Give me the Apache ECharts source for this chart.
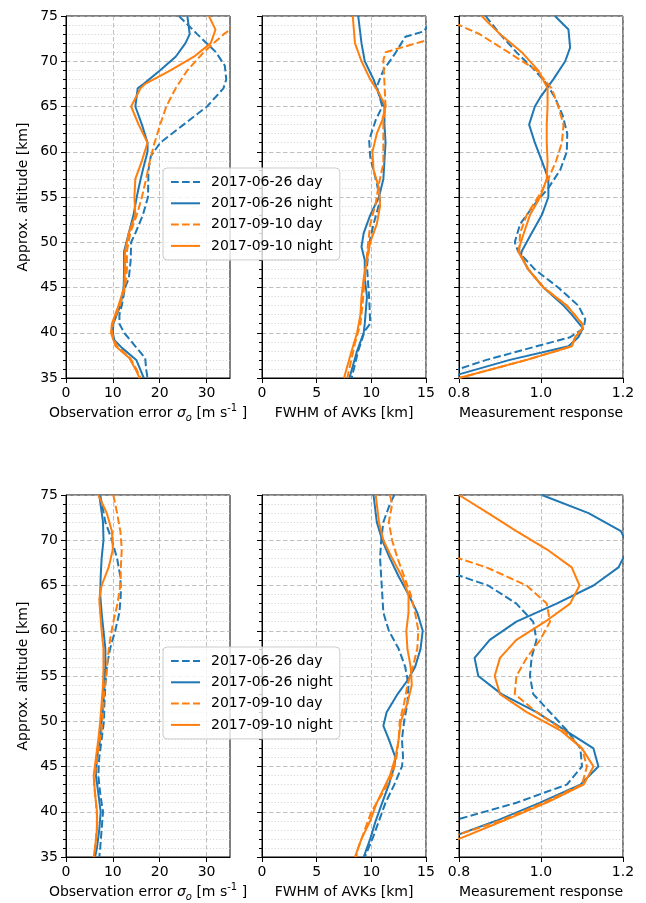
<!DOCTYPE html>
<html><head><meta charset="utf-8">
<script src="https://cdn.jsdelivr.net/npm/echarts@6/dist/echarts.min.js"></script>
<style>html,body{margin:0;padding:0;background:#fff}#c{width:646px;height:903px}</style>
</head><body><div id="c"></div>
<script>
const seriesNames = ['2017-06-26 day','2017-06-26 night','2017-09-10 day','2017-09-10 night'];
const altTicks = [35,40,45,50,55,60,65,70,75];
const errTicks = [0,10,20,30];
const fwhmTicks = [0,5,10,15];
const respTicks = [0.8,1.0,1.2];

// ---- top row: [value, altitude] ----
const errTopDay0626 = [[24.1,75],[28,73],[32,71],[33.9,69.5],[34.2,68],[33.6,67],[30.1,65],[25.1,63],[20.1,61],[18.1,59.5],[17.6,58],[17.5,55],[16.4,53],[14.8,51],[13.9,50],[13.8,48],[13.4,46],[12.6,45],[11.9,43],[11.4,42],[11.4,41],[12.4,40],[14.8,38.5],[16.9,37.2],[17.1,36],[17.4,35]];
const errTopNight0626 = [[25.9,75],[26.4,73],[25.5,72],[23.4,70.5],[20.1,69],[16.6,67.5],[15.3,67],[14.8,65],[16.2,63],[17.4,61],[17.4,60],[16.4,58],[15.5,56],[15.1,55],[14.4,53],[13.4,51],[12.4,49],[12.4,47],[12.3,45],[11.6,43],[10.1,41],[10.0,40],[10.3,39.2],[12.0,38.3],[15.0,37],[15.8,36],[16.6,35]];
const errTopDay0910 = [[38,75],[36.3,74],[33.7,73],[29.4,71],[25.9,69],[23.4,67],[21.4,65],[20.1,63],[18.9,61],[17.9,59],[17.1,57],[16.2,55],[15.1,53],[13.7,51],[13.0,49],[13.0,47],[12.6,45],[11.5,43],[10.0,41],[9.8,40],[10.3,39.2],[10.9,38.5],[13.7,37.2],[15.0,36],[15.9,35]];
const errTopNight0910 = [[30.5,75],[31.9,73.5],[30.9,72],[27.3,70.5],[22.3,69],[16.9,67.5],[15.9,67],[13.9,65],[15.5,63],[17.4,61],[16.2,59],[14.8,57],[14.6,55],[14.8,53],[13.4,51],[12.6,49],[12.6,47],[12.4,45],[11.2,43],[9.8,41],[9.6,40],[10.1,39.2],[10.6,38.5],[13.5,37.2],[14.8,36],[15.7,35]];

const fwhmTopDay0626 = [[16,75],[15.2,74],[14.8,73.3],[13.1,72.7],[12.2,70.9],[11.1,69],[10.5,67.2],[11.0,65],[10.4,63.5],[9.8,61.3],[9.9,59.4],[10.5,56.5],[10.8,54.6],[10.2,52],[9.8,49.8],[9.6,47.3],[9.8,43.9],[9.9,41],[9.4,40.2],[8.8,38],[8.2,35]];
const fwhmTopNight0626 = [[8.8,75],[9.1,72],[9.4,70],[10.2,68],[10.8,66],[11.2,65],[11.2,63],[11.3,61],[11.2,59],[11.1,57],[10.7,55],[9.9,53],[9.3,51],[9.1,49.5],[9.4,48],[9.4,46],[9.6,44],[9.4,41],[9.3,40],[8.7,38],[8.0,35]];
const fwhmTopDay0910 = [[18,75],[16.5,73],[15,72.3],[11.3,71],[11.1,70.1],[11.3,65],[11.1,63.5],[11.1,61.6],[11.1,58.7],[10.7,56.5],[10.4,54.3],[9.9,52],[9.7,49.8],[9.4,46.1],[9.2,43.2],[9.0,41],[8.5,38.8],[7.8,35]];
const fwhmTopNight0910 = [[8.3,75],[8.5,72],[9.1,70],[9.9,68],[10.7,66.5],[11.3,65],[11.0,63.5],[10.5,62],[10.1,60],[10.2,58],[10.7,56],[10.8,54],[10.5,52],[9.9,50],[9.6,48],[9.3,46],[9.1,44],[9.0,42],[8.7,40],[8.2,38],[7.5,35]];

const respTopDay0626 = [[0.865,75],[0.90,73],[0.94,71],[0.985,69],[1.014,67.5],[1.034,66],[1.053,64],[1.064,62],[1.063,60],[1.047,58],[1.018,56],[0.981,54],[0.949,52],[0.936,50],[0.944,49],[0.985,47],[1.042,45],[1.091,43],[1.108,41.5],[1.104,40.5],[1.071,39.5],[0.989,38.5],[0.867,37],[0.80,36],[0.78,35.7]];
const respTopNight0626 = [[1.034,75],[1.067,73.5],[1.071,71.5],[1.059,70],[1.030,68],[0.998,66],[0.985,65],[0.971,63],[0.985,61],[1.002,59],[1.018,57],[1.018,55],[1.002,53],[0.977,51],[0.953,49],[0.951,48.5],[0.969,47],[1.006,45],[1.055,43],[1.075,42],[1.102,40.5],[1.091,39.5],[1.067,38.5],[0.924,37],[0.80,35.4],[0.79,35]];
const respTopDay0910 = [[0.74,75],[0.80,74],[0.85,73],[0.92,71],[0.989,69],[1.026,67],[1.042,65],[1.055,63],[1.051,61],[1.037,59],[1.018,57],[0.993,55],[0.965,53],[0.949,51],[0.947,49],[0.969,47],[1.006,45],[1.063,43],[1.10,41],[1.102,40.5],[1.083,39.5],[1.075,38.5],[0.965,37],[0.80,35]];
const respTopNight0910 = [[0.855,75],[0.90,73],[0.953,71],[0.993,69],[1.016,67],[1.016,65],[1.014,63],[1.014,61],[1.016,59],[1.014,57],[0.998,55],[0.973,53],[0.958,51],[0.944,49],[0.969,47],[1.006,45],[1.063,43],[1.10,41],[1.102,40.5],[1.083,39.5],[1.075,38.5],[0.965,37],[0.80,35]];

// ---- bottom row ----
const errBotDay0626 = [[7.3,75],[8.4,72],[9.8,70],[10.9,68],[11.6,66],[11.7,64],[11.4,62],[10.5,60],[9.4,58],[8.7,56],[8.4,54],[8.2,52],[8.1,50],[7.6,48],[7.1,46],[6.9,44],[7.3,42],[7.9,40],[7.6,38],[7.3,36],[7.1,35]];
const errBotNight0626 = [[7.1,75],[7.9,72],[8.0,70],[7.6,68],[7.4,66],[7.3,64],[7.6,62],[8.0,60],[8.4,58],[8.4,56],[8.1,54],[8.0,52],[7.6,50],[7.3,48],[6.6,46],[6.4,44],[6.9,42],[7.4,40],[7.1,38],[6.6,36],[6.2,35]];
const errBotDay0910 = [[10.1,75],[10.9,73],[11.6,71],[11.9,69],[11.7,67],[11.6,65],[11.0,63],[10.1,61],[9.4,59],[8.9,57],[8.6,55],[8.1,53],[7.9,51],[7.6,49],[6.9,47],[6.4,45],[6.0,43],[6.4,41],[6.7,39],[6.4,37],[6.0,35]];
const errBotNight0910 = [[6.9,75],[8.7,73],[9.8,71],[10.0,69],[9.1,67],[7.6,65],[7.1,63.5],[7.3,62],[7.6,60],[8.0,58],[8.0,56],[7.9,54],[7.6,52],[7.3,50],[6.9,48],[6.4,46],[5.9,44],[6.2,42],[6.6,40],[6.6,38],[6.2,36],[5.9,35]];

const fwhmBotDay0626 = [[12.1,75],[11.7,74],[11.1,72],[10.9,70],[10.8,68],[10.9,66],[11.0,64],[11.1,62],[11.6,60],[12.5,58],[13.1,56],[13.4,54],[13.3,52],[13.0,50],[12.8,48],[12.9,46],[12.8,45],[12.1,43],[11.3,41],[10.7,39],[10.1,37],[9.4,35]];
const fwhmBotNight0626 = [[10.2,75],[10.5,72],[11.0,70],[11.7,68],[12.5,66],[13.4,64],[14.2,62],[14.7,60],[14.5,58],[14.0,56],[13.3,54.5],[12.4,53],[11.4,51],[11.1,49.5],[11.6,48],[12.2,46],[12.1,45],[11.6,43],[11.0,41],[10.4,39],[9.9,37],[9.3,35]];
const fwhmBotDay0910 = [[11.7,75],[11.9,74],[11.6,72],[11.9,70],[12.4,68],[13.0,66],[13.6,64],[14.0,62],[14.3,60],[14.2,58],[13.8,56],[13.3,54],[13.0,52],[12.6,50],[12.5,48],[12.3,46],[11.9,44],[11.0,42],[10.0,40],[9.4,38],[8.8,36],[8.6,35]];
const fwhmBotNight0910 = [[10.4,75],[10.7,72],[11.1,70],[11.9,68],[12.8,66],[13.4,64],[13.4,62],[13.2,60],[13.3,58],[13.6,56],[13.7,54],[13.3,52],[12.7,50],[12.5,48],[12.2,46],[11.7,44],[11.3,43],[10.5,41],[9.9,39],[9.1,37],[8.5,35]];

const respBotDay0626 = [[0.74,67],[0.80,66.1],[0.871,65],[0.940,63],[0.981,61],[0.989,59],[0.977,57],[0.973,55],[0.981,53],[1.022,51],[1.063,49],[1.096,47],[1.10,45],[1.063,43],[0.94,41],[0.80,39.2],[0.77,39]];
const respBotNight0626 = [[1.002,75],[1.116,73],[1.195,71],[1.215,69],[1.20,68],[1.189,67],[1.128,65],[1.038,63],[0.94,61],[0.875,59],[0.838,57],[0.847,55],[0.904,53],[0.989,51],[1.059,49],[1.128,47],[1.140,45],[1.096,43],[0.998,41],[0.891,39],[0.80,37.5],[0.77,37]];
const respBotDay0910 = [[0.74,69],[0.80,68],[0.867,67],[0.965,65],[1.014,63],[1.022,61],[0.998,59],[0.965,57],[0.940,55],[0.936,53],[0.989,51],[1.055,49],[1.10,47],[1.112,45],[1.10,43],[1.006,41],[0.90,39],[0.80,37.5],[0.77,37]];
const respBotNight0910 = [[0.80,75],[0.871,73],[0.94,71],[1.014,69],[1.075,67],[1.094,65],[1.071,63],[1.010,61],[0.940,59],[0.90,57],[0.887,55],[0.90,53],[0.965,51],[1.047,49],[1.10,47],[1.128,45],[1.104,43],[1.014,41],[0.908,39],[0.80,37],[0.77,36.6]];

const FONT = 'DejaVu Sans';
const BLUE = '#1f77b4', ORANGE = '#ff7f0e';
const colLeft = [66, 262, 459], colW = 164;
const rowTop = [16, 495], rowH = 362;

const errName = '{n|Observation error }{g|σ}{s|o}{n| [m s}{p|-1}{n| ]}';
const panels = [
  {row:0,col:0,min:0,max:35,interval:10,ticks:errTicks,name:errName,data:[errTopDay0626,errTopNight0626,errTopDay0910,errTopNight0910]},
  {row:0,col:1,min:0,max:15,interval:5,ticks:fwhmTicks,name:'FWHM of AVKs [km]',data:[fwhmTopDay0626,fwhmTopNight0626,fwhmTopDay0910,fwhmTopNight0910]},
  {row:0,col:2,min:0.8,max:1.2,interval:0.2,ticks:respTicks,name:'Measurement response',data:[respTopDay0626,respTopNight0626,respTopDay0910,respTopNight0910]},
  {row:1,col:0,min:0,max:35,interval:10,ticks:errTicks,name:errName,data:[errBotDay0626,errBotNight0626,errBotDay0910,errBotNight0910]},
  {row:1,col:1,min:0,max:15,interval:5,ticks:fwhmTicks,name:'FWHM of AVKs [km]',data:[fwhmBotDay0626,fwhmBotNight0626,fwhmBotDay0910,fwhmBotNight0910]},
  {row:1,col:2,min:0.8,max:1.2,interval:0.2,ticks:respTicks,name:'Measurement response',data:[respBotDay0626,respBotNight0626,respBotDay0910,respBotNight0910]}
];

const majorGrid = {color:'#b0b0b0', width:0.8, type:[4.5,2.5]};
const minorGrid = {color:'#c4c4c4', width:0.8, type:[1,2.2]};
const colors = [BLUE, BLUE, ORANGE, ORANGE];
const dashes = [[7.7,3.3], 'solid', [7.7,3.3], 'solid'];

const grids = [], xAxes = [], yAxes = [], series = [];
panels.forEach((p, i) => {
  grids.push({left: colLeft[p.col], top: rowTop[p.row], width: colW, height: rowH,
    show: true, borderColor: '#000', borderWidth: 1, backgroundColor: 'transparent'});
  const isResp = p.col === 2;
  xAxes.push({gridIndex: i, type: 'value', min: p.min, max: p.max, interval: p.interval,
    axisLine: {show: true, onZero: false, lineStyle: {color: '#000', width: 1}},
    axisTick: {show: true, length: 5, customValues: p.ticks, lineStyle: {color: '#000'}},
    axisLabel: {customValues: p.ticks, margin: 8, color: '#000', fontSize: 14, fontFamily: FONT,
      formatter: v => isResp ? Number(v).toFixed(1) : String(v)},
    splitLine: {show: true, lineStyle: majorGrid},
    name: p.name, nameLocation: 'middle', nameGap: 25,
    nameTextStyle: {color: '#000', fontSize: 14, fontFamily: FONT, lineHeight: 20,
      rich: {
        n: {fontSize: 14, fontFamily: FONT, color: '#000', lineHeight: 20},
        g: {fontSize: 14, fontFamily: FONT, color: '#000', fontStyle: 'italic', lineHeight: 20},
        s: {fontSize: 10, fontFamily: FONT, color: '#000', fontStyle: 'italic', lineHeight: 10, verticalAlign: 'bottom'},
        p: {fontSize: 10, fontFamily: FONT, color: '#000', lineHeight: 10, verticalAlign: 'top'}
      }}
  });
  yAxes.push({gridIndex: i, type: 'value', min: 35, max: 75, interval: 5,
    axisLine: {show: true, onZero: false, lineStyle: {color: '#000', width: 1}},
    axisTick: {show: true, length: 5, lineStyle: {color: '#000'}},
    minorTick: {show: true, splitNumber: 5, length: 3, lineStyle: {color: '#000'}},
    splitLine: {show: true, lineStyle: majorGrid},
    minorSplitLine: {show: true, lineStyle: minorGrid},
    axisLabel: {show: p.col === 0, customValues: altTicks, margin: 8, color: '#000', fontSize: 14, fontFamily: FONT},
    name: p.col === 0 ? 'Approx. altitude [km]' : '', nameLocation: 'middle', nameGap: 36,
    nameTextStyle: {color: '#000', fontSize: 14, fontFamily: FONT}
  });
  p.data.forEach((d, k) => {
    series.push({type: 'line', name: seriesNames[k], xAxisIndex: i, yAxisIndex: i,
      data: d, showSymbol: false, symbol: 'none', clip: true, z: 3 + k,
      lineStyle: {color: colors[k], width: 2, type: dashes[k]},
      itemStyle: {color: colors[k]}, emphasis: {disabled: true}});
  });
});

const legendBase = {orient: 'vertical', data: seriesNames, left: 163,
  itemWidth: 29, itemHeight: 14, itemGap: 7.3, padding: [7, 7, 7, 7],
  itemStyle: {opacity: 0},
  backgroundColor: 'rgba(255,255,255,0.8)', borderColor: '#cccccc', borderWidth: 1, borderRadius: 4,
  textStyle: {color: '#000', fontSize: 14, fontFamily: FONT, padding: [0, 0, 0, 6]}};

const chart = echarts.init(document.getElementById('c'), null, {renderer: 'canvas'});
chart.setOption({
  animation: false,
  backgroundColor: '#fff',
  grid: grids, xAxis: xAxes, yAxis: yAxes, series: series,
  legend: [Object.assign({}, legendBase, {top: 168}), Object.assign({}, legendBase, {top: 647})]
});
</script></body></html>
